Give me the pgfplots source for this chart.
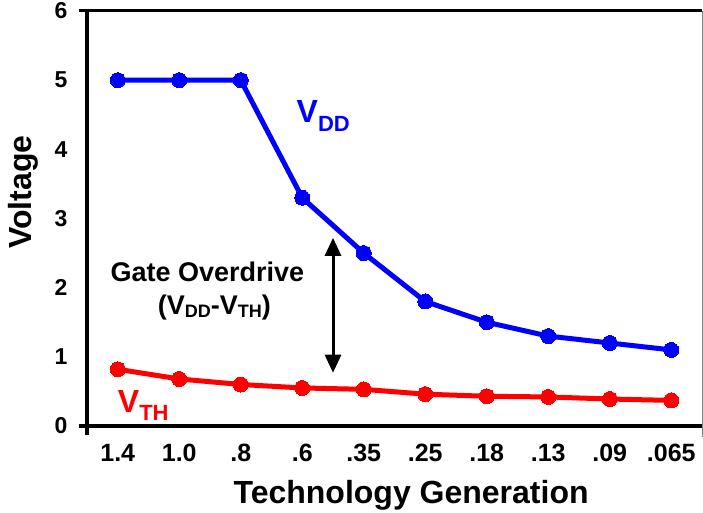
\documentclass[border=0pt]{standalone}
\usepackage{fontspec}
\setmainfont{Liberation Sans}
\usepackage{pgfplots}
\pgfplotsset{compat=1.18}
\usetikzlibrary{arrows.meta,calc}

\newcommand{\fs}[1]{\fontsize{#1}{#1}\selectfont}

\begin{document}
\begin{tikzpicture}
\begin{axis}[
  scale only axis, width=615bp, height=415bp,
  xmin=-0.5, xmax=9.5, ymin=0, ymax=6,
  xtick={0,...,9},
  xticklabels={1.4,1.0,.8,.6,.35,.25,.18,.13,.09,.065},
  ytick={0,...,6},
  major tick length=0pt,
  axis line style={draw=none},
  clip=false,
  /pgf/number format/assume math mode=true,
  xticklabel style={font=\bfseries\fs{25bp}, yshift=-15bp},
  yticklabel style={font=\bfseries\fs{23bp}, xshift=-16bp},
  xlabel={Technology Generation},
  xlabel style={font=\bfseries\fs{32bp}, at={(rel axis cs:0.527,0)}, anchor=base, yshift=-77bp},
]
\coordinate (O) at (rel axis cs:0,0);
\coordinate (T) at (rel axis cs:1,1);

% VDD
\addplot[color=blue, line width=5bp, mark=*, mark size=7.5bp, mark options={line width=0pt}]
  coordinates {(0,5) (1,5) (2,5) (3,3.3) (4,2.5) (5,1.8) (6,1.5) (7,1.3) (8,1.2) (9,1.1)};
% VTH
\addplot[color=red, line width=5bp, mark=*, mark size=7.5bp, mark options={line width=0pt}]
  coordinates {(0,0.82) (1,0.68) (2,0.6) (3,0.55) (4,0.53) (5,0.46) (6,0.43) (7,0.42) (8,0.39) (9,0.37)};

\node[anchor=base west, inner sep=0, text=blue, font=\bfseries\fs{32bp}]
  at (axis cs:2.907,4.395) {V\raisebox{-9bp}{\fs{22bp}DD}};
\node[anchor=base west, inner sep=0, text=red, font=\bfseries\fs{32bp}]
  at (axis cs:0,0.202) {V\raisebox{-8bp}{\fs{22bp}TH}};

\node[anchor=base, inner sep=0, font=\bfseries\fs{27bp}] at (axis cs:1.459,2.096) {Gate Overdrive};
\node[anchor=base, inner sep=0, font=\bfseries\fs{27bp}] at (axis cs:1.573,1.605)
  {(V\raisebox{-3bp}{\fs{18bp}DD}-V\raisebox{-3bp}{\fs{18bp}TH})};

\draw[{Triangle[width=16bp,length=18bp]}-{Triangle[width=16bp,length=18bp]}, line width=3bp]
  (axis cs:3.5,0.77) -- (axis cs:3.5,2.72);
\end{axis}
% y label
\node[rotate=90, anchor=base, inner sep=0, font=\bfseries\fs{32bp}] at ($(O)+(-55bp,234bp)$) {Voltage};
% frame
\draw[gray, line width=1bp] (T) -- ($(O-|T)+(0,-11bp)$);
\draw[line width=3bp] ($(O|-T)+(-8bp,0)$) -- (T);
\draw[line width=3bp] (O|-T) -- (O) -- (O-|T);
\draw[line width=3bp] ($(O)+(-8bp,0)$) -- (O) -- ($(O)+(0,-9bp)$);
\pgfresetboundingbox
\path[use as bounding box] ($(O)+(-87bp,-87bp)$) rectangle ($(O)+(616bp,426bp)$);
\end{tikzpicture}
\end{document}
